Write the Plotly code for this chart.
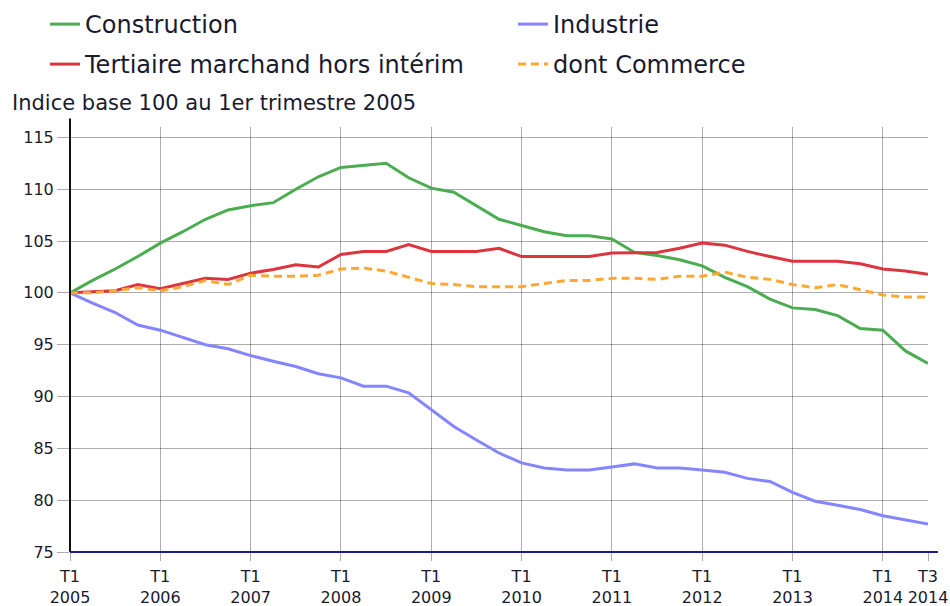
import plotly.graph_objects as go

years = list(range(2005, 2015))
quarters = [f"T{q} {y}" for y in years for q in (1, 2, 3, 4)][:39]

construction = [100, 101.2, 102.3, 103.5, 104.8, 105.9, 107.1, 108.0, 108.4, 108.7,
                110.0, 111.2, 112.1, 112.3, 112.5, 111.1, 110.1, 109.7, 108.4, 107.1,
                106.5, 105.9, 105.5, 105.5, 105.2, 103.9, 103.6, 103.2, 102.6, 101.5,
                100.6, 99.4, 98.55, 98.4, 97.8, 96.55, 96.4, 94.4, 93.2]
industrie = [100, 99.0, 98.1, 96.9, 96.4, 95.7, 95.0, 94.6, 93.95, 93.4,
             92.9, 92.2, 91.8, 91.0, 91.0, 90.35, 88.7, 87.1, 85.8, 84.55,
             83.6, 83.1, 82.9, 82.9, 83.2, 83.5, 83.1, 83.1, 82.9, 82.7,
             82.1, 81.8, 80.75, 79.9, 79.5, 79.1, 78.5, 78.1, 77.7]
tertiaire = [100, 100.1, 100.2, 100.8, 100.4, 100.9, 101.4, 101.3, 101.9, 102.25,
             102.7, 102.5, 103.7, 104.0, 104.0, 104.66, 104.0, 104.0, 104.0, 104.3,
             103.5, 103.5, 103.5, 103.5, 103.85, 103.9, 103.9, 104.3, 104.8, 104.6,
             104.0, 103.5, 103.05, 103.05, 103.05, 102.8, 102.3, 102.1, 101.8]
commerce = [100, 100.0, 100.2, 100.5, 100.2, 100.6, 101.2, 100.8, 101.7, 101.6,
            101.6, 101.7, 102.3, 102.4, 102.1, 101.5, 100.9, 100.8, 100.6, 100.6,
            100.6, 100.9, 101.2, 101.2, 101.4, 101.4, 101.3, 101.6, 101.6, 102.0,
            101.5, 101.3, 100.8, 100.5, 100.8, 100.3, 99.8, 99.6, 99.6]

tick_vals = [f"T1 {y}" for y in range(2005, 2015)] + ["T3 2014"]
tick_text = [f"T1<br>{y}" for y in range(2005, 2015)] + ["T3<br>2014"]
y_ticks = [75, 80, 85, 90, 95, 100, 105, 110, 115]

FONT = "DejaVu Sans"
TXT = "#1a1a2e"
GRID = "rgba(0,0,0,0.32)"

fig = go.Figure()
fig.add_trace(go.Scatter(x=quarters, y=construction, name="Construction", mode="lines",
                         line=dict(color="#4cac50", width=3), legend="legend", showlegend=True))
fig.add_trace(go.Scatter(x=quarters, y=industrie, name="Industrie", mode="lines",
                         line=dict(color="#8585ff", width=3), legend="legend2", showlegend=True))
fig.add_trace(go.Scatter(x=quarters, y=tertiaire, name="Tertiaire marchand hors intérim", mode="lines",
                         line=dict(color="#dd3540", width=3), legend="legend3", showlegend=True))
fig.add_trace(go.Scatter(x=quarters, y=commerce, name="dont Commerce", mode="lines",
                         line=dict(color="#ffa733", width=3, dash="8px,5px"), legend="legend4",
                         showlegend=True))

def leg(x, y):
    return dict(x=x, y=y, orientation="h", xanchor="left", yanchor="top", visible=True,
                font=dict(family=FONT, size=24, color=TXT),
                bgcolor="rgba(0,0,0,0)", itemclick=False, itemdoubleclick=False)

col1, col2 = -0.0291, 0.5163
row1, row2 = 1.2941, 1.2

fig.update_layout(
    width=950, height=606,
    showlegend=True,
    margin=dict(l=70, r=22, t=127, b=54, autoexpand=False),
    paper_bgcolor="white", plot_bgcolor="white",
    font=dict(family=FONT, size=16, color=TXT),
    legend=leg(col1, row1),
    legend2=leg(col2, row1),
    legend3=leg(col1, row2),
    legend4=leg(col2, row2),
    xaxis=dict(type="category", categoryorder="array", categoryarray=quarters,
               range=[0, 38], tickmode="array", tickvals=tick_vals, ticktext=tick_text,
               showgrid=True, gridcolor=GRID, gridwidth=1,
               ticks="outside", ticklen=8, tickcolor=GRID, ticklabelstandoff=2,
               tickfont=dict(family=FONT, size=16, color=TXT),
               showline=False, zeroline=False),
    yaxis=dict(range=[75, 116], tickmode="array", tickvals=y_ticks,
               showgrid=True, gridcolor=GRID, gridwidth=1,
               ticks="outside", ticklen=12, tickcolor=GRID,
               tickfont=dict(family=FONT, size=16, color=TXT),
               showline=False, zeroline=False),
    annotations=[dict(text="Indice base 100 au 1er trimestre 2005", xref="paper", yref="paper",
                      x=-0.07, y=1.0565, xanchor="left", yanchor="middle", showarrow=False,
                      font=dict(family=FONT, size=21, color=TXT))],
    shapes=[
        dict(type="line", xref="paper", yref="paper", x0=0, x1=1.0115, y0=0, y1=0,
             line=dict(color="#1c1c8a", width=2), layer="above"),
        dict(type="line", xref="paper", yref="paper", x0=0, x1=0, y0=0, y1=1.02,
             line=dict(color="#111111", width=2), layer="above"),
    ],
)

fig.write_html("out.html", config={"displayModeBar": False},
               post_script="document.body.style.margin='0';")
